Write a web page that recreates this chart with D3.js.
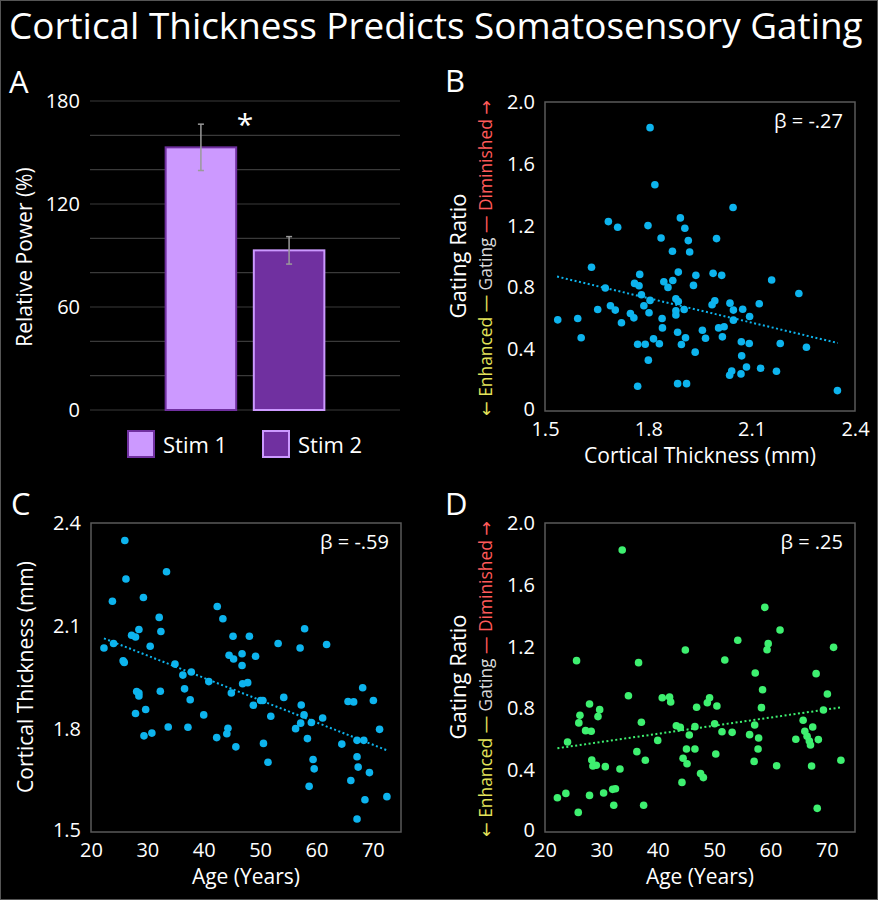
<!DOCTYPE html>
<html lang="en">
<head>
<meta charset="utf-8">
<title>Cortical Thickness Predicts Somatosensory Gating</title>
<script src="https://cdn.jsdelivr.net/npm/d3@7"></script>
<style>
  body { margin: 0; background: #000; }
  text { font-family: "Open Sans", sans-serif; fill: #fff; }
</style>
</head>
<body>
<script>
  var w = 878;
  var h = 900;

  // panel A - bars
  var stimNames = ["Stim 1", "Stim 2"];
  var stimPower = [153, 93];
  var stimErr = [13.5, 8];
  var powerTicks = [0, 60, 120, 180];

  // panel B - gating ratio vs cortical thickness
  var thicknessB = [1.537,1.595,1.605,1.635,1.653,1.675,1.684,1.690,1.704,1.711,1.722,1.748,1.758,1.760,1.769,1.769,1.773,1.775,1.780,1.787,1.791,1.799,1.800,1.802,1.805,1.805,1.815,1.819,1.832,1.837,1.840,1.841,1.845,1.857,1.870,1.871,1.880,1.880,1.880,1.885,1.885,1.887,1.887,1.893,1.896,1.904,1.906,1.908,1.911,1.916,1.920,1.931,1.936,1.938,1.957,1.966,1.985,1.988,1.993,1.998,2.004,2.013,2.015,2.020,2.036,2.042,2.037,2.046,2.047,2.047,2.069,2.071,2.070,2.074,2.085,2.093,2.094,2.122,2.126,2.158,2.172,2.183,2.237,2.259,2.349];
  var gatingB = [0.590,0.599,0.474,0.930,0.657,0.796,1.226,0.681,0.653,1.189,0.571,0.631,0.603,0.826,0.432,0.160,0.811,0.884,0.752,0.681,0.432,1.200,0.329,0.636,1.834,0.716,0.467,1.464,0.435,1.120,0.599,0.538,0.837,0.800,1.034,0.845,0.726,0.649,0.621,0.510,0.177,0.899,0.709,1.250,0.430,0.657,1.183,0.474,0.177,1.103,1.029,0.813,0.381,0.878,0.523,0.471,0.688,0.891,0.714,1.116,0.538,0.878,0.480,0.545,0.231,0.259,0.698,1.317,0.653,0.588,0.240,0.357,0.448,0.659,0.285,0.437,0.612,0.694,0.277,0.848,0.257,0.437,0.761,0.413,0.132];
  var trendB = [[1.535, 0.87], [2.35, 0.44]];

  // panel C - cortical thickness vs age
  var ageC = [22.3,23.8,24.0,25.7,25.9,26.0,26.2,27.2,27.9,27.9,28.1,28.5,28.5,28.5,29.3,29.4,29.7,30.5,30.8,32.1,32.3,32.4,33.4,33.7,34.9,36.3,36.6,37.2,37.6,37.8,40.0,40.9,42.3,42.4,43.4,44.1,44.3,44.5,44.9,45.2,45.3,45.7,46.8,46.8,46.9,47.8,48.1,48.8,49.2,50.1,50.5,50.6,51.4,51.9,53.2,54.2,56.3,57.1,57.3,57.2,57.8,57.9,58.4,58.7,59.1,59.4,59.6,61.1,61.8,64.5,65.6,66.1,66.6,67.2,67.2,67.2,67.4,68.2,68.4,68.6,69.4,70.1,71.2,72.5];
  var thicknessC = [2.036,2.172,2.049,1.999,1.994,2.349,2.237,2.073,1.845,2.068,1.909,1.905,2.090,1.896,2.183,1.780,1.857,2.041,1.788,2.125,1.910,2.084,2.258,1.806,1.989,1.957,1.917,1.805,1.885,1.966,1.841,1.938,1.775,2.157,2.121,1.786,1.802,2.015,1.905,2.070,2.004,1.748,2.019,1.985,1.932,1.935,2.070,1.869,2.012,1.883,1.883,1.758,1.703,1.837,2.049,1.892,1.801,2.036,1.870,1.817,1.841,2.092,1.772,1.633,1.819,1.711,1.684,1.832,2.046,1.756,1.880,1.650,1.879,1.538,1.719,1.767,1.689,1.920,1.767,1.594,1.673,1.883,1.799,1.603];
  var trendC = [[22.3, 2.064], [72.5, 1.738]];

  // panel D - gating ratio vs age
  var ageD = [22.2,23.7,24.0,25.6,25.9,26.0,26.2,27.2,27.9,27.9,28.2,28.3,28.5,29.1,29.4,29.7,30.4,30.7,32.0,32.2,32.5,33.3,33.7,34.8,36.3,36.6,37.1,37.5,37.8,40.0,40.8,42.1,42.3,43.3,44.0,44.3,44.5,44.9,45.1,45.2,45.6,46.6,46.6,46.9,47.6,48.1,48.8,49.2,50.1,50.3,50.5,51.4,51.9,53.2,54.2,56.3,57.1,57.2,57.3,57.8,57.9,58.4,58.6,59.0,59.4,59.6,61.1,61.7,64.5,65.8,66.1,66.5,66.9,67.1,67.3,67.5,68.1,68.3,68.5,69.4,70.1,71.2,72.5];
  var gatingD = [0.222,0.250,0.583,1.109,0.127,0.706,0.755,0.656,0.828,0.237,0.652,0.466,0.427,0.432,0.747,0.792,0.252,0.423,0.276,0.173,0.280,0.408,1.825,0.882,0.520,1.096,0.710,0.173,0.464,0.593,0.869,0.874,0.841,0.688,0.677,0.321,0.477,1.178,0.537,0.442,0.628,0.537,0.682,0.807,0.378,0.352,0.837,0.869,0.701,0.505,0.816,0.649,1.113,0.645,1.241,0.630,0.457,0.693,1.029,0.537,0.608,0.805,0.921,1.454,1.180,1.219,0.429,1.307,0.600,0.723,0.652,0.619,0.589,0.563,0.427,0.680,1.025,0.153,0.598,0.790,0.893,1.195,0.464];
  var trendD = [[22.2, 0.542], [72.6, 0.807]];

  var gatingTicks = [0, 0.4, 0.8, 1.2, 1.6, 2.0];
  var thickTicks = [1.5, 1.8, 2.1, 2.4];
  var ageTicks = [20, 30, 40, 50, 60, 70];

  var svg = d3.select("body")
              .append("svg")
              .attr("width", w)
              .attr("height", h);

  svg.append("rect")
     .attr("x", 0.5).attr("y", 0.5)
     .attr("width", w - 1).attr("height", h - 1)
     .attr("fill", "#000")
     .attr("stroke", "#555");

  // title, squeezed to span the page
  var title = svg.append("text")
                 .attr("x", 9)
                 .attr("y", 39)
                 .attr("font-size", 36)
                 .text("Cortical Thickness Predicts Somatosensory Gating");
  var tw = title.node().getComputedTextLength();
  title.attr("font-size", 36 * 854 / tw);

  function fitFont(sel, size, len) {
    var l = sel.node().getComputedTextLength();
    sel.attr("font-size", size * len / l);
  }

  var letters = [["A", 9, 93], ["B", 445, 92], ["C", 11, 515], ["D", 445, 515]];
  svg.selectAll(".panel-letter")
     .data(letters)
     .enter()
     .append("text")
     .attr("class", "panel-letter")
     .attr("x", function(d) { return d[1]; })
     .attr("y", function(d) { return d[2]; })
     .attr("font-size", 31)
     .text(function(d) { return d[0]; });

  /////////////////////////////// PANEL A
  var xA = d3.scaleBand()
             .domain(stimNames)
             .range([148, 342])
             .paddingInner(0.2)
             .paddingOuter(0.2);
  var yA = d3.scaleLinear().domain([0, 180]).range([410, 101]);

  var panelA = svg.append("g").attr("class", "panelA");

  panelA.selectAll(".grid")
        .data(d3.range(0, 181, 20))
        .enter()
        .append("line")
        .attr("class", "grid")
        .attr("x1", 90).attr("x2", 400)
        .attr("y1", function(d) { return yA(d); })
        .attr("y2", function(d) { return yA(d); })
        .attr("stroke", "#3a3a3a")
        .attr("stroke-width", 1.2);

  var axA = panelA.append("g")
                  .attr("transform", "translate(90,0)")
                  .call(d3.axisLeft(yA).tickValues(powerTicks).tickSize(0).tickPadding(10));
  axA.select(".domain").remove();
  axA.selectAll("text").attr("font-size", 20).attr("font-family", "Open Sans").attr("fill", "#fff");

  var barFill = ["#CC99FF", "#7030A0"];
  var barLine = ["#7030A0", "#CC99FF"];

  panelA.selectAll(".bar")
        .data(stimPower)
        .enter()
        .append("rect")
        .attr("class", "bar")
        .attr("x", function(d, i) { return xA(stimNames[i]); })
        .attr("y", function(d) { return yA(d); })
        .attr("width", xA.bandwidth())
        .attr("height", function(d) { return yA(0) - yA(d); })
        .attr("fill", function(d, i) { return barFill[i]; })
        .attr("stroke", function(d, i) { return barLine[i]; })
        .attr("stroke-width", 2);

  // error bars
  var errs = panelA.selectAll(".err")
                   .data(stimPower)
                   .enter()
                   .append("g")
                   .attr("class", "err")
                   .attr("stroke", "#9a9a9a")
                   .attr("stroke-width", 1.5);
  errs.append("line")
      .attr("x1", function(d, i) { return xA(stimNames[i]) + xA.bandwidth() / 2; })
      .attr("x2", function(d, i) { return xA(stimNames[i]) + xA.bandwidth() / 2; })
      .attr("y1", function(d, i) { return yA(d + stimErr[i]); })
      .attr("y2", function(d, i) { return yA(d - stimErr[i]); });
  [1, -1].forEach(function(s) {
    errs.append("line")
        .attr("x1", function(d, i) { return xA(stimNames[i]) + xA.bandwidth() / 2 - 3; })
        .attr("x2", function(d, i) { return xA(stimNames[i]) + xA.bandwidth() / 2 + 3; })
        .attr("y1", function(d, i) { return yA(d + s * stimErr[i]); })
        .attr("y2", function(d, i) { return yA(d + s * stimErr[i]); });
  });

  panelA.append("text")
        .attr("x", 245)
        .attr("y", 135)
        .attr("text-anchor", "middle")
        .attr("font-size", 30)
        .text("*");

  panelA.append("text")
        .attr("transform", "translate(32,257) rotate(-90)")
        .attr("text-anchor", "middle")
        .attr("font-size", 21)
        .text("Relative Power (%)");

  // legend
  var leg = panelA.selectAll(".legend")
                  .data(stimNames)
                  .enter()
                  .append("g")
                  .attr("class", "legend")
                  .attr("transform", function(d, i) { return "translate(" + (128 + i * 135) + ",431)"; });
  leg.append("rect")
     .attr("width", 26).attr("height", 26)
     .attr("fill", function(d, i) { return barFill[i]; })
     .attr("stroke", function(d, i) { return barLine[i]; })
     .attr("stroke-width", 2);
  leg.append("text")
     .attr("x", 35).attr("y", 22)
     .attr("font-size", 22)
     .text(function(d) { return d; });

  /////////////////////////////// SCATTER PANELS
  function gatingFmt(d) { return d === 0 ? "0" : d.toFixed(1); }

  function scatter(o) {
    var g = svg.append("g");
    var x = d3.scaleLinear().domain(o.xDomain).range([o.left, o.left + 310]);
    var y = d3.scaleLinear().domain(o.yDomain).range([o.top + 309, o.top]);

    var ax = g.append("g")
              .attr("transform", "translate(0," + (o.top + 309) + ")")
              .call(d3.axisBottom(x).tickValues(o.xTicks).tickSize(0).tickPadding(11).tickFormat(o.xFmt));
    var ay = g.append("g")
              .attr("transform", "translate(" + o.left + ",0)")
              .call(d3.axisLeft(y).tickValues(o.yTicks).tickSize(0).tickPadding(10).tickFormat(o.yFmt));
    [ax, ay].forEach(function(a) {
      a.select(".domain").remove();
      a.selectAll("text").attr("font-size", 20).attr("font-family", "Open Sans").attr("fill", "#fff");
    });
    // lowest y label sits a touch higher so it clears the first x label
    ay.selectAll(".tick text").filter(function(d) { return d === o.yDomain[0]; }).attr("dy", "0.2em");

    g.append("rect")
     .attr("x", o.left).attr("y", o.top)
     .attr("width", 310).attr("height", 309)
     .attr("fill", "none")
     .attr("stroke", "#595959")
     .attr("stroke-width", 1.5);

    g.selectAll(".dot")
     .data(d3.zip(o.xs, o.ys))
     .enter()
     .append("circle")
     .attr("class", "dot")
     .attr("cx", function(d) { return x(d[0]); })
     .attr("cy", function(d) { return y(d[1]); })
     .attr("r", 3.8)
     .attr("fill", o.color);

    g.append("path")
     .datum(o.trend)
     .attr("d", d3.line().x(function(d) { return x(d[0]); }).y(function(d) { return y(d[1]); }))
     .attr("fill", "none")
     .attr("stroke", o.color)
     .attr("stroke-width", 2)
     .attr("stroke-dasharray", "2,2.5");

    g.append("text")
     .attr("x", o.left + 298)
     .attr("y", o.top + 26)
     .attr("text-anchor", "end")
     .attr("font-size", 20)
     .text(o.beta);

    g.append("text")
     .attr("x", o.left + 155)
     .attr("y", o.top + 361)
     .attr("text-anchor", "middle")
     .attr("font-size", 21)
     .text(o.xLabel);

    if (o.gating) {
      g.append("text")
       .attr("transform", "translate(" + (o.left - 79) + "," + (o.top + 154) + ") rotate(-90)")
       .attr("text-anchor", "middle")
       .attr("font-size", 22)
       .text("Gating Ratio");
      var sub = g.append("text")
                 .attr("transform", "translate(" + (o.left - 53) + "," + (o.top + 156) + ") rotate(-90)")
                 .attr("text-anchor", "middle")
                 .attr("font-size", 17);
      sub.append("tspan").style("fill", "#E3E35A").style("font-family", "DejaVu Sans").text("\u2190");
      sub.append("tspan").style("fill", "#E3E35A").text(" Enhanced \u2014 ");
      sub.append("tspan").style("fill", "#d9d9d9").text("Gating");
      sub.append("tspan").style("fill", "#FF5A5A").text(" \u2014 Diminished ");
      sub.append("tspan").style("fill", "#FF5A5A").style("font-family", "DejaVu Sans").text("\u2192");
      fitFont(sub, 17, 316);
    } else {
      g.append("text")
       .attr("transform", "translate(" + (o.left - 58) + "," + (o.top + 154) + ") rotate(-90)")
       .attr("text-anchor", "middle")
       .attr("font-size", 21)
       .text(o.yLabel);
    }
  }

  scatter({
    left: 545, top: 102,
    xDomain: [1.5, 2.4], yDomain: [0, 2],
    xTicks: thickTicks, yTicks: gatingTicks,
    xFmt: d3.format(".1f"), yFmt: gatingFmt,
    xs: thicknessB, ys: gatingB, trend: trendB,
    color: "#0DB4EE", beta: "\u03B2 = -.27",
    xLabel: "Cortical Thickness (mm)", gating: true
  });

  scatter({
    left: 91, top: 523,
    xDomain: [20, 75], yDomain: [1.5, 2.4],
    xTicks: ageTicks, yTicks: thickTicks,
    xFmt: d3.format("d"), yFmt: d3.format(".1f"),
    xs: ageC, ys: thicknessC, trend: trendC,
    color: "#0DB4EE", beta: "\u03B2 = -.59",
    xLabel: "Age (Years)", yLabel: "Cortical Thickness (mm)", gating: false
  });

  scatter({
    left: 545, top: 523,
    xDomain: [20, 75], yDomain: [0, 2],
    xTicks: ageTicks, yTicks: gatingTicks,
    xFmt: d3.format("d"), yFmt: gatingFmt,
    xs: ageD, ys: gatingD, trend: trendD,
    color: "#3EF070", beta: "\u03B2 = .25",
    xLabel: "Age (Years)", gating: true
  });
</script>
</body>
</html>
